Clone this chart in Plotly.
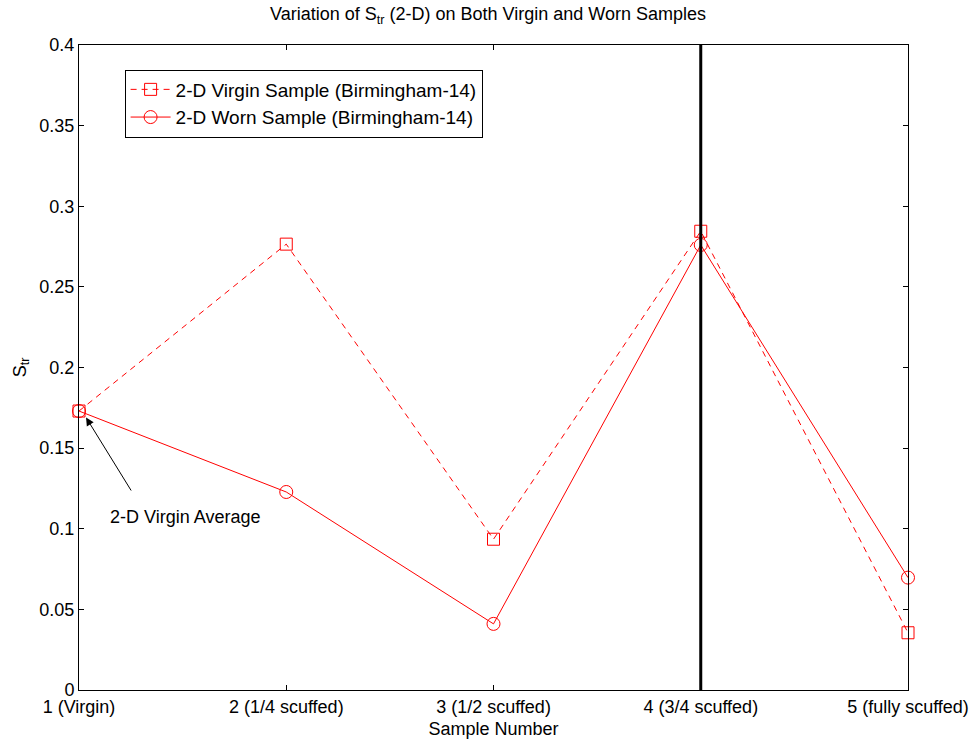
import plotly.graph_objects as go

samples = [1, 2, 3, 4, 5]
tick_labels = ["1 (Virgin)", "2 (1/4 scuffed)", "3 (1/2 scuffed)", "4 (3/4 scuffed)", "5 (fully scuffed)"]
virgin = [0.173, 0.2765, 0.0935, 0.2845, 0.0355]
worn = [0.173, 0.1228, 0.041, 0.276, 0.0697]
marker_sample = 4
virgin_average = 0.173

FONT = "Liberation Sans, Arial, sans-serif"
FS = 18

fig = go.Figure()
fig.add_trace(go.Scatter(
    x=samples, y=virgin, mode="lines+markers",
    name="2-D Virgin Sample (Birmingham-14)",
    line=dict(color="#ff0000", width=1, dash="6px,5px"),
    marker=dict(symbol="square-open", size=12, color="#ff0000", line=dict(width=1)),
    cliponaxis=False,
))
fig.add_trace(go.Scatter(
    x=samples, y=worn, mode="lines+markers",
    name="2-D Worn Sample (Birmingham-14)",
    line=dict(color="#ff0000", width=1),
    marker=dict(symbol="circle-open", size=13, color="#ff0000", line=dict(width=1)),
    cliponaxis=False,
))

fig.add_vline(x=marker_sample, line=dict(color="black", width=3))

fig.add_annotation(x=1.034, y=virgin_average - 0.004, ax=1.256, ay=0.1228,
                   xref="x", yref="y", axref="x", ayref="y", text="",
                   showarrow=True, arrowhead=2, arrowsize=1.6, arrowwidth=1, arrowcolor="black")
fig.add_annotation(x=1.51, y=0.107, xref="x", yref="y", text="2-D Virgin Average",
                   showarrow=False, font=dict(family=FONT, size=FS, color="black"))

fig.update_layout(
    width=976, height=749,
    margin=dict(l=79, r=68, t=45, b=59),
    paper_bgcolor="white", plot_bgcolor="white",
    font=dict(family=FONT, size=FS, color="black"),
    title=dict(text="Variation of S<sub>tr</sub> (2-D) on Both Virgin and Worn Samples",
               x=0.5, xanchor="center", y=0.99, yanchor="top",
               font=dict(family=FONT, size=FS, color="black")),
    showlegend=True,
    legend=dict(x=0.055, y=0.962, xanchor="left", yanchor="top",
                bgcolor="white", bordercolor="black", borderwidth=1,
                font=dict(family=FONT, size=19, color="black"),
                tracegroupgap=0, itemwidth=40),
    xaxis=dict(range=[1, 5], tickvals=samples, ticktext=tick_labels, automargin=False,
               showgrid=False, zeroline=False, showline=True, linecolor="black",
               linewidth=1, mirror="ticks", ticks="inside", ticklen=5, tickcolor="black",
               title=dict(text="Sample Number", standoff=6, font=dict(size=FS))),
    yaxis=dict(range=[0, 0.4], dtick=0.05, tickformat="~g", automargin=False,
               showgrid=False, zeroline=False, showline=True, linecolor="black",
               linewidth=1, mirror="ticks", ticks="inside", ticklen=5, tickcolor="black",
               title=dict(text="S<sub>tr</sub>", standoff=8, font=dict(size=FS))),
)

fig.write_html("out.html")
